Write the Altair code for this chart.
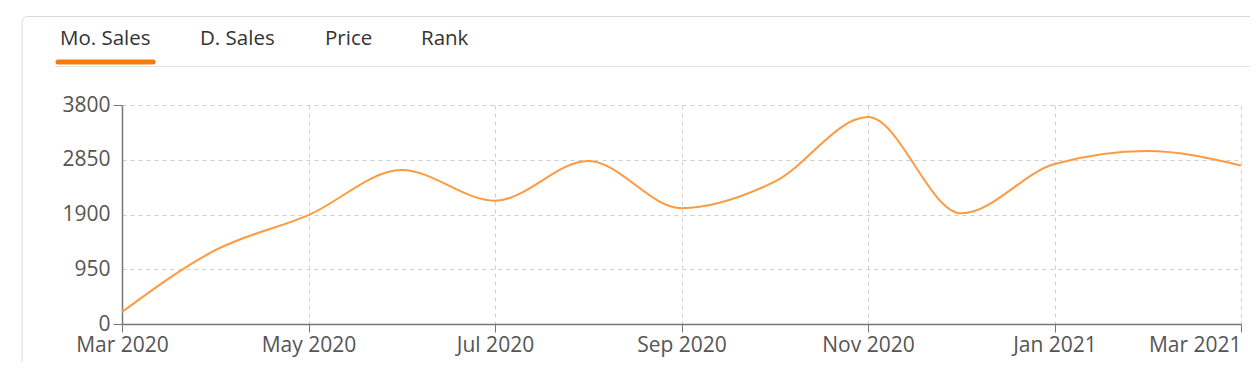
import altair as alt
import pandas as pd

months = ["Mar 2020", "Apr 2020", "May 2020", "Jun 2020", "Jul 2020", "Aug 2020",
          "Sep 2020", "Oct 2020", "Nov 2020", "Dec 2020", "Jan 2021", "Feb 2021", "Mar 2021"]
sales = [210, 1280, 1890, 2670, 2140, 2830, 2010, 2470, 3590, 1920, 2775, 3000, 2750]
y_ticks = [0, 950, 1900, 2850, 3800]
x_ticks = ["Mar 2020", "May 2020", "Jul 2020", "Sep 2020", "Nov 2020", "Jan 2021", "Mar 2021"]
tabs = ["Mo. Sales", "D. Sales", "Price", "Rank"]

FONT = "Open Sans"
df = pd.DataFrame({"month": months, "sales": sales})
one = pd.DataFrame({"k": [0]})

line = alt.Chart(df).mark_line(
    interpolate="monotone", color="#ff9a40", strokeWidth=2
).encode(
    x=alt.X("month:O", sort=months, title=None,
            scale=alt.Scale(type="point", padding=0),
            axis=alt.Axis(values=x_ticks, labelAngle=0, grid=True,
                          gridDash=[4, 4], gridColor="#cfcfcf",
                          domainColor="#777", domainWidth=1.5,
                          tickColor="#777", tickSize=8, labelPadding=2,
                          labelFont=FONT, labelFontSize=21, labelColor="#555",
                          labelAlign={"condition": {"test": "datum.value === 'Mar 2021'", "value": "right"},
                                      "value": "center"})),
    y=alt.Y("sales:Q", title=None,
            scale=alt.Scale(domain=[0, 3800], nice=False),
            axis=alt.Axis(values=y_ticks, format="d", grid=True, gridDash=[4, 4], gridColor="#cfcfcf",
                          domainColor="#777", domainWidth=1.5, tickColor="#777",
                          tickSize=9, labelPadding=3,
                          tickOpacity={"condition": {"test": "datum.value == 0 || datum.value == 3800", "value": 1},
                                       "value": 0},
                          labelFont=FONT, labelFontSize=21, labelColor="#555"))
)

card = alt.Chart(one).mark_rect(
    fillOpacity=0, stroke="#d5d9dc", strokeWidth=1, cornerRadius=6
).encode(x=alt.value(-100), x2=alt.value(1180), y=alt.value(-88.5), y2=alt.value(300))

sep = alt.Chart(one).mark_rule(color="#e0e4e7", strokeWidth=1).encode(
    x=alt.value(-67), x2=alt.value(1140), y=alt.value(-38.5))

underline = alt.Chart(one).mark_rule(color="#f57c0a", strokeWidth=5, strokeCap="round").encode(
    x=alt.value(-64), x2=alt.value(31), y=alt.value(-43))

tab_x = [-62, 78, 203, 299]
tab_layers = [
    alt.Chart(one).mark_text(text=t, font=FONT, fontSize=20.5, color="#333",
                             align="left", baseline="alphabetic").encode(
        x=alt.value(tx), y=alt.value(-60))
    for t, tx in zip(tabs, tab_x)
]

chart = alt.layer(card, sep, underline, *tab_layers, line).properties(
    width=1119, height=219,
    autosize=alt.AutoSizeParams(type="none"),
    padding={"left": 114, "top": 97, "right": 9, "bottom": 38},
).configure_view(stroke=None)

chart.save("out.html", embed_options={"renderer": "svg", "actions": False})
